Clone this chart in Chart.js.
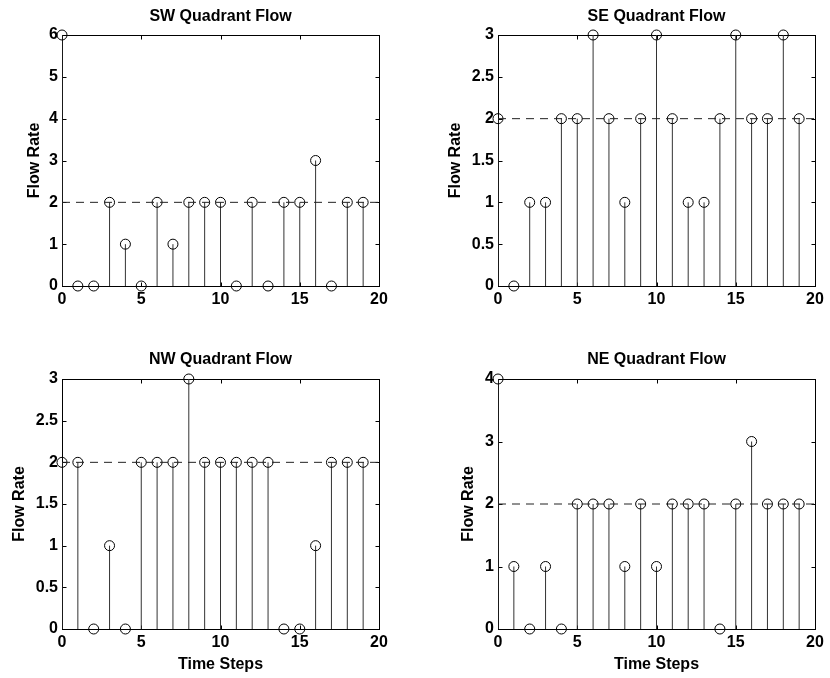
<!DOCTYPE html>
<html lang="en">
<head>
    <meta charset="UTF-8">
    <title>Quadrant Flow</title>
    <style>
        html, body{
            margin: 0;
            padding: 0;
            background-color: #fff;
        }
        #figure{
            position: relative;
            width: 830px;
            height: 678px;
        }
        .panel{
            position: absolute;
        }
    </style>
</head>
<body>
    <div id="figure">
        <canvas id="sw" class="panel" width="415" height="320" style="left:0;top:0"></canvas>
        <canvas id="se" class="panel" width="415" height="320" style="left:415px;top:0"></canvas>
        <canvas id="nw" class="panel" width="415" height="358" style="left:0;top:320px"></canvas>
        <canvas id="ne" class="panel" width="415" height="358" style="left:415px;top:320px"></canvas>
    </div>
    <script src="https://cdn.jsdelivr.net/npm/chart.js"></script>
    <script>
        // data
        const timeSteps = [0, 1, 2, 3, 4, 5, 6, 7, 8, 9, 10, 11, 12, 13, 14, 15, 16, 17, 18, 19];
        const swFlow = [6, 0, 0, 2, 1, 0, 2, 1, 2, 2, 2, 0, 2, 0, 2, 2, 3, 0, 2, 2];
        const seFlow = [2, 0, 1, 1, 2, 2, 3, 2, 1, 2, 3, 2, 1, 1, 2, 3, 2, 2, 3, 2];
        const nwFlow = [2, 2, 0, 1, 0, 2, 2, 2, 3, 2, 2, 2, 2, 2, 0, 0, 1, 2, 2, 2];
        const neFlow = [4, 1, 0, 1, 0, 2, 2, 2, 1, 2, 1, 2, 2, 2, 0, 2, 3, 2, 2, 2];
        const targetFlow = 2;
        const xTicks = [0, 5, 10, 15, 20];
        const swTicks = [0, 1, 2, 3, 4, 5, 6];
        const seTicks = [0, 0.5, 1, 1.5, 2, 2.5, 3];
        const nwTicks = [0, 0.5, 1, 1.5, 2, 2.5, 3];
        const neTicks = [0, 1, 2, 3, 4];

        Chart.defaults.font.family = 'Arial, "Liberation Sans", sans-serif';
        Chart.defaults.color = '#000';

        // Rahmen + Ticks nach innen (wie matlab)
        const boxPlugin = {
            id: 'matlabBox',
            beforeDatasetsDraw(chart) {
                const ctx = chart.ctx;
                const a = chart.chartArea;
                const x = chart.scales.x;
                const y = chart.scales.y;
                const l = Math.round(a.left) + 0.5, r = Math.round(a.right) + 0.5;
                const t = Math.round(a.top) + 0.5, b = Math.round(a.bottom) + 0.5;
                ctx.save();
                ctx.strokeStyle = '#000';
                ctx.lineWidth = 1;
                ctx.strokeRect(l, t, r - l, b - t);
                ctx.beginPath();
                x.ticks.forEach(tick => {
                    const px = Math.round(x.getPixelForValue(tick.value)) + 0.5;
                    ctx.moveTo(px, b); ctx.lineTo(px, b - 4);
                    ctx.moveTo(px, t); ctx.lineTo(px, t + 4);
                });
                y.ticks.forEach(tick => {
                    const py = Math.round(y.getPixelForValue(tick.value)) + 0.5;
                    ctx.moveTo(l, py); ctx.lineTo(l + 4, py);
                    ctx.moveTo(r, py); ctx.lineTo(r - 4, py);
                });
                ctx.stroke();
                ctx.restore();
            }
        };

        function stemPoints(values) {
            const pts = [];
            values.forEach((v, i) => {
                pts.push({x: timeSteps[i], y: 0}, {x: timeSteps[i], y: v}, {x: timeSteps[i], y: null});
            });
            return pts;
        }

        function panelErstellen(id, titel, werte, yTicks, p) {
            new Chart(document.getElementById(id), {
                type: 'line',
                data: {
                    datasets: [{
                        data: [{x: xTicks[0], y: targetFlow}, {x: xTicks[xTicks.length - 1], y: targetFlow}],
                        borderColor: '#222',
                        borderWidth: 1,
                        borderDash: [8, 6],
                        pointRadius: 0
                    }, {
                        data: werte.map((v, i) => ({x: timeSteps[i], y: v})),
                        showLine: false,
                        pointStyle: 'circle',
                        pointRadius: 5,
                        pointBorderWidth: 1,
                        pointBorderColor: '#000',
                        pointBackgroundColor: 'rgba(0,0,0,0)',
                        clip: false
                    }, {
                        data: stemPoints(werte),
                        borderColor: '#333',
                        borderWidth: 1,
                        pointRadius: 0,
                        spanGaps: false
                    }]
                },
                options: {
                    responsive: false,
                    devicePixelRatio: 1,
                    animation: false,
                    events: [],
                    layout: {padding: {left: 0, right: p.padRight, top: 0, bottom: 0}},
                    plugins: {
                        legend: {display: false},
                        tooltip: {enabled: false},
                        title: {
                            display: true,
                            text: titel,
                            fullSize: false,
                            font: {size: 16, weight: 'bold', lineHeight: 1},
                            padding: {top: p.titleTop, bottom: p.titleBottom}
                        }
                    },
                    scales: {
                        x: {
                            type: 'linear',
                            min: 0,
                            max: 20,
                            grid: {display: false, drawTicks: false},
                            border: {display: false},
                            afterBuildTicks: s => { s.ticks = xTicks.map(v => ({value: v})); },
                            afterFit: s => { s.height = p.xHeight; },
                            ticks: {
                                padding: 6,
                                maxRotation: 0,
                                font: {size: 16, weight: 'bold', lineHeight: 1},
                                callback: v => String(v)
                            },
                            title: {
                                display: p.xTitle,
                                text: 'Time Steps',
                                font: {size: 16, weight: 'bold', lineHeight: 1},
                                padding: {top: 0, bottom: 5}
                            }
                        },
                        y: {
                            type: 'linear',
                            min: yTicks[0],
                            max: yTicks[yTicks.length - 1],
                            grid: {display: false, drawTicks: false},
                            border: {display: false},
                            afterBuildTicks: s => { s.ticks = yTicks.map(v => ({value: v})); },
                            afterFit: s => { s.width = p.yWidth; },
                            ticks: {
                                padding: 4,
                                font: {size: 16, weight: 'bold', lineHeight: 1},
                                callback: v => String(v)
                            },
                            title: {
                                display: true,
                                text: 'Flow Rate',
                                font: {size: 16, weight: 'bold', lineHeight: 1},
                                padding: {top: p.yTitlePad, bottom: 0}
                            }
                        }
                    }
                },
                plugins: [boxPlugin]
            });
        }

        panelErstellen('sw', 'SW Quadrant Flow', swFlow, swTicks,
            {padRight: 36, titleTop: 8.5, titleBottom: 10.5, xHeight: 34, xTitle: false, yWidth: 62, yTitlePad: 26.5});
        panelErstellen('se', 'SE Quadrant Flow', seFlow, seTicks,
            {padRight: 15, titleTop: 8.5, titleBottom: 10.5, xHeight: 34, xTitle: false, yWidth: 83, yTitlePad: 32.5});
        panelErstellen('nw', 'NW Quadrant Flow', nwFlow, nwTicks,
            {padRight: 36, titleTop: 32, titleBottom: 11, xHeight: 49, xTitle: true, yWidth: 62, yTitlePad: 12});
        panelErstellen('ne', 'NE Quadrant Flow', neFlow, neTicks,
            {padRight: 15, titleTop: 32, titleBottom: 11, xHeight: 49, xTitle: true, yWidth: 83, yTitlePad: 46});
    </script>
</body>
</html>
